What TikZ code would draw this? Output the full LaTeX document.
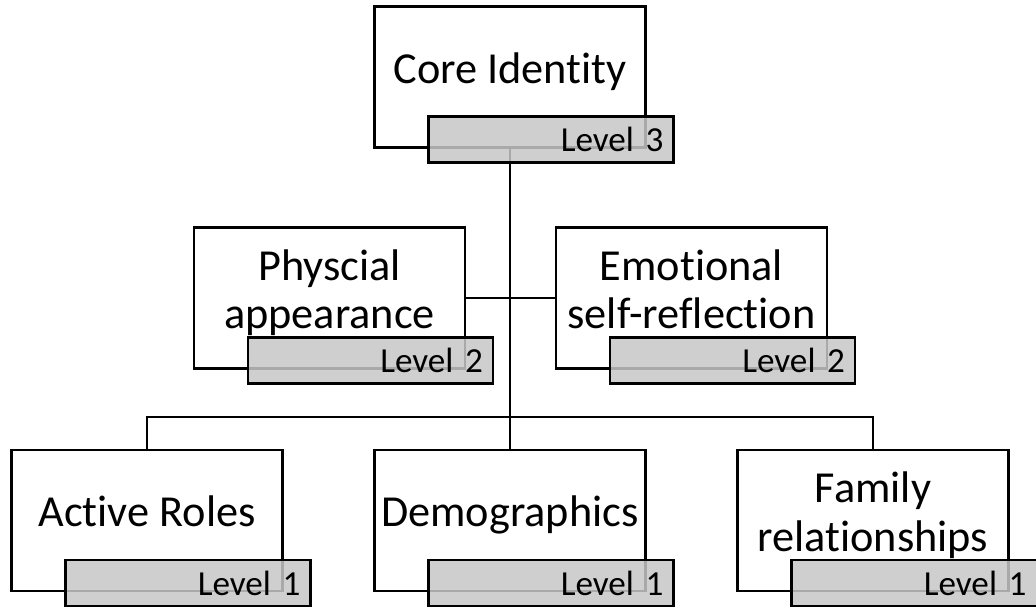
\documentclass[tikz,border=0pt]{standalone}
\usepackage{fontspec}
\setmainfont{Carlito}[Ligatures=NoCommon]
\usetikzlibrary{positioning}

\begin{document}
\begin{tikzpicture}[x=0.025cm,y=-0.025cm,line width=1.5pt,
  box/.style={draw,fill=white,minimum width=6.775cm,minimum height=3.525cm,inner xsep=0pt,text depth=0.45cm,align=center,font=\fontsize{31.5}{34.5}\selectfont},
  tag/.style={draw,fill=black!22,fill opacity=0.85,text opacity=1,minimum height=1.15cm,text width=5.625cm,inner sep=0.25cm,align=right,font=\fontsize{25}{28}\selectfont}]
  \useasboundingbox (0,0) rectangle (1036,607);
  % boxes
  \node[box] (core) at (510,77){Core Identity};
  \node[box] (phys) at (329.5,298){Physcial\\appearance};
  \node[box] (emo) at (691.5,298){Emotional\\self-reflection};
  \node[box] (act) at (147,520.5){Active Roles};
  \node[box] (demo) at (510,520.5){Demographics};
  \node[box] (fam) at (873,520.5){Family\\relationships};
  \coordinate (bar) at (510,417);
  % connectors
  \draw (core.south) -- (demo.north);
  \draw (phys.east) -- (emo.west);
  \draw (act.north) |- (bar) -| (fam.north);
  % level tags
  \node[tag,anchor=south east,xshift=0.7cm,yshift=-0.375cm] (corelv) at (core.south east){Level 3};
  \node[tag,anchor=south east,xshift=0.7cm,yshift=-0.375cm] (physlv) at (phys.south east){Level 2};
  \node[tag,anchor=south east,xshift=0.7cm,yshift=-0.375cm] (emolv) at (emo.south east){Level 2};
  \node[tag,anchor=south east,xshift=0.7cm,yshift=-0.375cm] (actlv) at (act.south east){Level 1};
  \node[tag,anchor=south east,xshift=0.7cm,yshift=-0.375cm] (demolv) at (demo.south east){Level 1};
  \node[tag,anchor=south east,xshift=0.7cm,yshift=-0.375cm] (famlv) at (fam.south east){Level 1};
\end{tikzpicture}
\end{document}
